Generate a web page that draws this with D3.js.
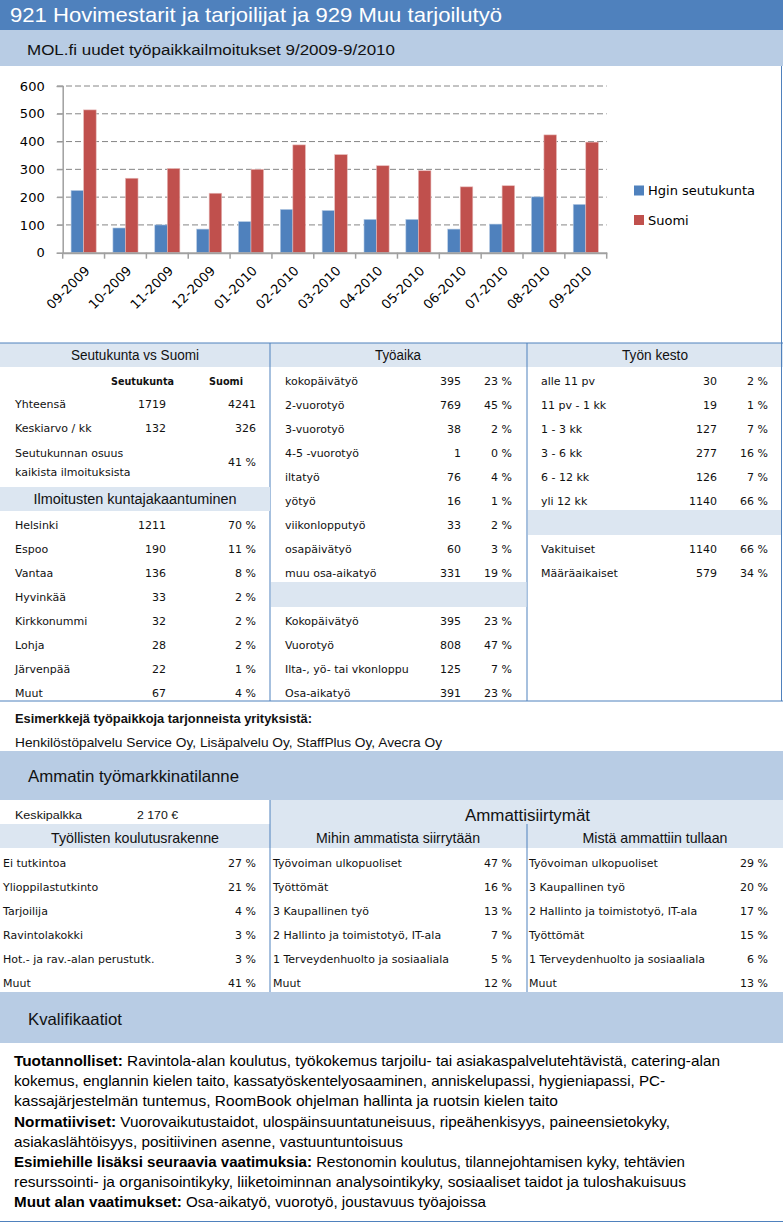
<!DOCTYPE html>
<html><head><meta charset="utf-8">
<script src="https://cdn.jsdelivr.net/npm/d3@7"></script>
<style>html,body{margin:0;padding:0;background:#fff}svg{display:block}</style>
</head><body>
<script>
// ---------- DATA ----------
const months = ["09-2009","10-2009","11-2009","12-2009","01-2010","02-2010","03-2010","04-2010","05-2010","06-2010","07-2010","08-2010","09-2010"];
const hgin   = [224, 89, 100, 85, 112, 156, 152, 120, 120, 85, 103, 201, 174];
const suomi  = [514, 268, 303, 214, 300, 388, 353, 313, 295, 237, 241, 424, 398];
const seriesNames = ["Hgin seutukunta", "Suomi"];
const yTicks = [0, 100, 200, 300, 400, 500, 600];

const seutuCols = ["Seutukunta", "Suomi"];
const seutuLabels = ["Yhteensä", "Keskiarvo / kk"];
const seutuVals = ["1719", "132"];
const suomiVals = ["4241", "326"];
const osuusLabel = ["Seutukunnan osuus", "kaikista ilmoituksista"];
const osuusVal = "41 %";

const kunnat = ["Helsinki","Espoo","Vantaa","Hyvinkää","Kirkkonummi","Lohja","Järvenpää","Muut"];
const kunnatN = ["1211","190","136","33","32","28","22","67"];
const kunnatP = ["70 %","11 %","8 %","2 %","2 %","2 %","1 %","4 %"];

const tyoaika = ["kokopäivätyö","2-vuorotyö","3-vuorotyö","4-5 -vuorotyö","iltatyö","yötyö","viikonlopputyö","osapäivätyö","muu osa-aikatyö"];
const tyoaikaN = ["395","769","38","1","76","16","33","60","331"];
const tyoaikaP = ["23 %","45 %","2 %","0 %","4 %","1 %","2 %","3 %","19 %"];
const tyoaika2 = ["Kokopäivätyö","Vuorotyö","Ilta-, yö- tai vkonloppu","Osa-aikatyö"];
const tyoaika2N = ["395","808","125","391"];
const tyoaika2P = ["23 %","47 %","7 %","23 %"];

const kesto = ["alle 11 pv","11 pv - 1 kk","1 - 3 kk","3 - 6 kk","6 - 12 kk","yli 12 kk"];
const kestoN = ["30","19","127","277","126","1140"];
const kestoP = ["2 %","1 %","7 %","16 %","7 %","66 %"];
const kesto2 = ["Vakituiset","Määräaikaiset"];
const kesto2N = ["1140","579"];
const kesto2P = ["66 %","34 %"];

const koulutus = ["Ei tutkintoa","Ylioppilastutkinto","Tarjoilija","Ravintolakokki","Hot.- ja rav.-alan perustutk.","Muut"];
const koulutusP = ["27 %","21 %","4 %","3 %","3 %","41 %"];
const mihin = ["Työvoiman ulkopuoliset","Työttömät","3 Kaupallinen työ","2 Hallinto ja toimistotyö, IT-ala","1 Terveydenhuolto ja sosiaaliala","Muut"];
const mihinP = ["47 %","16 %","13 %","7 %","5 %","12 %"];
const mista = ["Työvoiman ulkopuoliset","3 Kaupallinen työ","2 Hallinto ja toimistotyö, IT-ala","Työttömät","1 Terveydenhuolto ja sosiaaliala","Muut"];
const mistaP = ["29 %","20 %","17 %","15 %","6 %","13 %"];

const titleText = "921 Hovimestarit ja tarjoilijat ja 929 Muu tarjoilutyö";
const subtitleText = "MOL.fi uudet työpaikkailmoitukset 9/2009-9/2010";
const companiesHead = "Esimerkkejä työpaikkoja tarjonneista yrityksistä:";
const companies = "Henkilöstöpalvelu Service Oy, Lisäpalvelu Oy, StaffPlus Oy, Avecra Oy";
const keskipalkka = ["Keskipalkka", "2 170 €"];
const qualLines = [
  ["Tuotannolliset:", " Ravintola-alan koulutus, työkokemus tarjoilu- tai asiakaspalvelutehtävistä, catering-alan"],
  ["", "kokemus, englannin kielen taito, kassatyöskentelyosaaminen, anniskelupassi, hygieniapassi, PC-"],
  ["", "kassajärjestelmän tuntemus, RoomBook ohjelman hallinta ja ruotsin kielen taito"],
  ["Normatiiviset:", " Vuorovaikutustaidot, ulospäinsuuntatuneisuus, ripeähenkisyys, paineensietokyky,"],
  ["", "asiakaslähtöisyys, positiivinen asenne, vastuuntuntoisuus"],
  ["Esimiehille lisäksi seuraavia vaatimuksia:", " Restonomin koulutus, tilannejohtamisen kyky, tehtävien"],
  ["", "resurssointi- ja organisointikyky, liiketoiminnan analysointikyky, sosiaaliset taidot ja tuloshakuisuus"],
  ["Muut alan vaatimukset:", " Osa-aikatyö, vuorotyö, joustavuus työajoissa"]
];

// ---------- STYLE ----------
const W = 783, H = 1224;
const DARK = "#4F81BD", MID = "#B8CCE4", PALE = "#DCE6F1", RED = "#C0504D";
const SANS = "'DejaVu Sans', Verdana, sans-serif";
const CAL = "'Liberation Sans Narrow','Liberation Sans', Arial, sans-serif";
const TXT = "#111";

const svg = d3.select("body").append("svg").attr("width", W).attr("height", H);

function txt(g, x, y, s, o = {}) {
  const t = g.append("text").attr("x", x).attr("y", y).attr("dy", "0.35em")
    .attr("font-family", o.font || SANS).attr("font-size", o.size || 11)
    .attr("fill", o.fill || TXT).attr("text-anchor", o.anchor || "start")
    .attr("font-weight", o.bold ? "bold" : null).text(s);
  if (o.len) t.attr("textLength", o.len).attr("lengthAdjust", "spacingAndGlyphs");
  return t;
}
function rect(x, y, w, h, f) { svg.append("rect").attr("x", x).attr("y", y).attr("width", w).attr("height", h).attr("fill", f); }
function line(x1, y1, x2, y2, c = DARK, w = 1) {
  svg.append("line").attr("x1", x1).attr("y1", y1).attr("x2", x2).attr("y2", y2).attr("stroke", c).attr("stroke-width", w);
}

// ---------- HEADER BANDS ----------
rect(0, 0, W, 30, DARK);
txt(svg, 10, 15, titleText, {font: CAL, size: 21, fill: "#fff", len: 492});
rect(0, 30, W, 36, MID);
txt(svg, 27, 50, subtitleText, {font: CAL, size: 15.5, len: 368});

// ---------- CHART ----------
const x = d3.scaleBand().domain(months).range([62.7, 606.7]);
const x1 = d3.scaleBand().domain(seriesNames).range([x.bandwidth() * 0.2, x.bandwidth() * 0.8]);
const y = d3.scaleLinear().domain([0, 600]).range([252.7, 86]);
const chart = svg.append("g");

// gridlines
chart.selectAll(".grid").data(yTicks.filter(d => d > 0)).join("line")
  .attr("x1", 57).attr("x2", 606.7).attr("y1", d => y(d)).attr("y2", d => y(d))
  .attr("stroke", "#868686").attr("stroke-width", 1).attr("stroke-dasharray", "6,3");

// y axis
const yAxis = chart.append("g").attr("transform", "translate(62.7,0)")
  .call(d3.axisLeft(y).tickValues(yTicks).tickSize(6).tickPadding(12));
yAxis.select(".domain").attr("stroke", "#A0A0A0").attr("stroke-width", 1.5);
yAxis.selectAll(".tick line").attr("stroke", "#A0A0A0");
yAxis.selectAll("text").attr("font-family", SANS).attr("font-size", 13).attr("fill", "#000");

// bars
const groups = chart.selectAll(".m").data(months).join("g").attr("transform", d => `translate(${x(d)},0)`);
groups.append("rect").attr("x", x1(seriesNames[0])).attr("width", x1.bandwidth())
  .attr("y", (d, i) => y(hgin[i])).attr("height", (d, i) => y(0) - y(hgin[i]))
  .attr("fill", DARK).attr("stroke", "#B9CDE5").attr("stroke-width", 0.6);
groups.append("rect").attr("x", x1(seriesNames[1])).attr("width", x1.bandwidth())
  .attr("y", (d, i) => y(suomi[i])).attr("height", (d, i) => y(0) - y(suomi[i]))
  .attr("fill", RED).attr("stroke", "#E6B9B8").attr("stroke-width", 0.6);

// x axis
const xAxis = chart.append("g").attr("transform", `translate(0,${y(0)})`)
  .call(d3.axisBottom(x).tickSize(0).tickPadding(8));
xAxis.select(".domain").attr("stroke", "#A0A0A0").attr("stroke-width", 2);
xAxis.selectAll(".tick text").attr("font-family", SANS).attr("font-size", 13).attr("fill", "#000")
  .attr("text-anchor", "end").attr("dy", "0.35em")
  .attr("transform", `translate(${-2},${10}) rotate(-45)`);
// boundary ticks
chart.selectAll(".bt").data(d3.range(months.length + 1)).join("line")
  .attr("x1", i => 62.7 + i * x.step()).attr("x2", i => 62.7 + i * x.step())
  .attr("y1", y(0)).attr("y2", y(0) + 6).attr("stroke", "#A0A0A0").attr("stroke-width", 1.5);

// legend
const legend = chart.selectAll(".lg").data(seriesNames).join("g")
  .attr("transform", (d, i) => `translate(634,${185.5 + i * 29.5})`);
legend.append("rect").attr("width", 10).attr("height", 10).attr("fill", (d, i) => i ? RED : DARK);
legend.append("text").attr("x", 14).attr("y", 5).attr("dy", "0.35em")
  .attr("font-family", SANS).attr("font-size", 13).attr("fill", "#000").text(d => d);

// ---------- TABLES ----------
const TOP = 343, STEP = 24;
rect(0, TOP, W, 24, PALE);
line(0, TOP, W, TOP);
line(0, 701, W, 701);
line(270, TOP, 270, 701);
line(527, TOP, 527, 701);
line(781.5, 66, 781.5, 701);

// left column
txt(svg, 135, 355, "Seutukunta vs Suomi", {font: CAL, size: 14, anchor: "middle", len: 128});
txt(svg, 142.5, 381, seutuCols[0], {size: 10.5, bold: true, anchor: "middle", len: 63});
txt(svg, 226, 381, seutuCols[1], {size: 10.5, bold: true, anchor: "middle", len: 34});
seutuLabels.forEach((l, i) => {
  const yy = 404 + i * STEP;
  txt(svg, 15, yy, l);
  txt(svg, 166, yy, seutuVals[i], {anchor: "end"});
  txt(svg, 256, yy, suomiVals[i], {anchor: "end"});
});
txt(svg, 15, 453, osuusLabel[0]);
txt(svg, 15, 472, osuusLabel[1]);
txt(svg, 256, 462, osuusVal, {anchor: "end"});
rect(0, 487, 270, 24, PALE);
txt(svg, 135, 499, "Ilmoitusten kuntajakaantuminen", {font: CAL, size: 14, anchor: "middle", len: 203});
kunnat.forEach((l, i) => {
  const yy = 525 + i * STEP;
  txt(svg, 15, yy, l);
  txt(svg, 166, yy, kunnatN[i], {anchor: "end"});
  txt(svg, 256, yy, kunnatP[i], {anchor: "end"});
});

// middle column
txt(svg, 398, 355, "Työaika", {font: CAL, size: 14, anchor: "middle", len: 46});
tyoaika.forEach((l, i) => {
  const yy = 381 + i * STEP;
  txt(svg, 285, yy, l);
  txt(svg, 461, yy, tyoaikaN[i], {anchor: "end"});
  txt(svg, 512, yy, tyoaikaP[i], {anchor: "end"});
});
rect(271, 582, 255.5, 25, PALE);
tyoaika2.forEach((l, i) => {
  const yy = 621 + i * STEP;
  txt(svg, 285, yy, l);
  txt(svg, 461, yy, tyoaika2N[i], {anchor: "end"});
  txt(svg, 512, yy, tyoaika2P[i], {anchor: "end"});
});

// right column
txt(svg, 655, 355, "Työn kesto", {font: CAL, size: 14, anchor: "middle", len: 66});
kesto.forEach((l, i) => {
  const yy = 381 + i * STEP;
  txt(svg, 541, yy, l);
  txt(svg, 717, yy, kestoN[i], {anchor: "end"});
  txt(svg, 768, yy, kestoP[i], {anchor: "end"});
});
rect(528, 510, 253, 25, PALE);
kesto2.forEach((l, i) => {
  const yy = 549 + i * STEP;
  txt(svg, 541, yy, l);
  txt(svg, 717, yy, kesto2N[i], {anchor: "end"});
  txt(svg, 768, yy, kesto2P[i], {anchor: "end"});
});

// ---------- COMPANIES ----------
txt(svg, 15, 718, companiesHead, {font: CAL, size: 13.5, bold: true, len: 297});
txt(svg, 15, 742, companies, {font: CAL, size: 13.5, len: 427});

// ---------- LABOUR MARKET ----------
rect(0, 751, W, 49, MID);
txt(svg, 28, 776, "Ammatin työmarkkinatilanne", {font: CAL, size: 16.5, len: 211});
rect(270, 800, W - 270, 48, PALE);
rect(0, 824, 270, 24, PALE);
txt(svg, 15, 815, keskipalkka[0], {font: CAL, size: 11.5, len: 67});
txt(svg, 137, 815, keskipalkka[1], {font: CAL, size: 11.5, len: 41});
txt(svg, 527.5, 815, "Ammattisiirtymät", {font: CAL, size: 16, anchor: "middle", len: 125});
txt(svg, 135, 838, "Työllisten koulutusrakenne", {font: CAL, size: 14.5, anchor: "middle", len: 168});
txt(svg, 398, 838, "Mihin ammatista siirrytään", {font: CAL, size: 14.5, anchor: "middle", len: 164});
txt(svg, 655, 838, "Mistä ammattiin tullaan", {font: CAL, size: 14.5, anchor: "middle", len: 145});
line(270, 800, 270, 992);
line(527, 824, 527, 992);
[[koulutus, koulutusP, 3, 256], [mihin, mihinP, 273, 512], [mista, mistaP, 529, 768]].forEach(([labs, ps, lx, px]) => {
  labs.forEach((l, i) => {
    const yy = 863 + i * STEP;
    txt(svg, lx, yy, l);
    txt(svg, px, yy, ps[i], {anchor: "end"});
  });
});

// ---------- QUALIFICATIONS ----------
rect(0, 992, W, 51, MID);
txt(svg, 28, 1019, "Kvalifikaatiot", {font: CAL, size: 16.5, len: 94});
const qualWidths = [706, 651, 544, 656, 389, 671, 672, 472];
qualLines.forEach((ln, i) => {
  const t = svg.append("text").attr("x", 14).attr("y", 1061 + i * 20.15).attr("dy", "0.35em")
    .attr("font-family", CAL).attr("font-size", 14.5).attr("fill", "#000")
    .attr("textLength", qualWidths[i]).attr("lengthAdjust", "spacingAndGlyphs");
  if (ln[0]) t.append("tspan").attr("font-weight", "bold").text(ln[0]);
  t.append("tspan").text(ln[1]);
});
line(0, 1221.5, W, 1221.5);
</script>
</body></html>
